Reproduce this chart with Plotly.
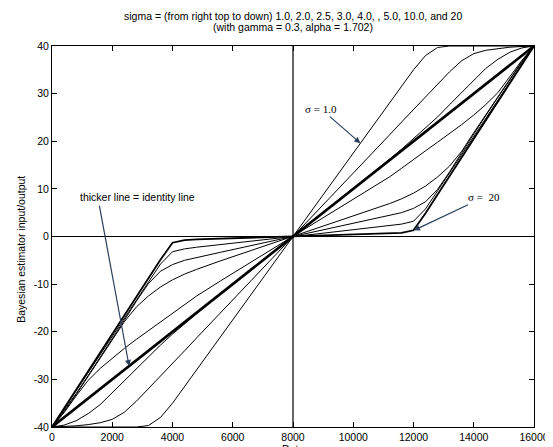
import plotly.graph_objects as go

# Data axis values (shared grid for all sigma curves)
data_x = [0, 400, 800, 1200, 1600, 2000, 2400, 2800, 3200, 3600, 4000, 4400, 4800, 5600, 6400, 7200,
          8000, 8800, 9600, 10400, 11200, 11600, 12000, 12400, 12800, 13200, 13600, 14000, 14400,
          14800, 15200, 15600, 16000]

s1_y = [-40, -40, -40, -40, -40, -40, -40, -40, -39.7, -38.0, -35.0, -31.5, -28.0, -21.0, -14.0, -7.0,
        0, 7.0, 14.0, 21.0, 28.0, 31.5, 35.0, 38.0, 39.7, 40, 40, 40, 40, 40, 40, 40, 40]
s2_y = [-40, -39.9, -39.75, -39.5, -39.1, -38.4, -36.9, -34.6, -32.0, -29.3, -26.6, -24.0, -21.3, -16.0, -10.6, -5.3,
        0, 5.3, 10.6, 16.0, 21.3, 24.0, 26.6, 29.3, 32.0, 34.6, 36.9, 38.4, 39.1, 39.5, 39.75, 39.9, 40]
s25_y = [-40, -39.6, -38.7, -37.2, -35.3, -32.8, -30.3, -27.7, -25.1, -22.8, -20.5, -18.3, -16.2, -12.0, -8.0, -4.0,
         0, 4.0, 8.0, 12.0, 16.2, 18.3, 20.5, 22.8, 25.1, 27.7, 30.3, 32.8, 35.3, 37.2, 38.7, 39.6, 40]
s3_y = [-40, -37.0, -33.5, -30.2, -27.7, -25.5, -23.5, -21.6, -19.8, -18.0, -16.2, -14.3, -12.5, -9.3, -6.2, -3.1,
        0, 3.1, 6.2, 9.3, 12.5, 14.3, 16.2, 18.0, 19.8, 21.6, 23.5, 25.5, 27.7, 30.2, 33.5, 37.0, 40]
s4_y = [-40, -36.8, -33.2, -29.4, -25.6, -21.8, -17.9, -14.8, -12.5, -10.6, -9.1, -7.9, -6.9, -5.1, -3.4, -1.7,
        0, 1.7, 3.4, 5.1, 6.9, 7.9, 9.1, 10.6, 12.5, 14.8, 17.9, 21.8, 25.6, 29.4, 33.2, 36.8, 40]
s5_y = [-40, -36.6, -33.0, -29.2, -25.4, -21.6, -17.6, -13.6, -9.9, -7.3, -5.9, -5.0, -4.4, -3.3, -2.2, -1.1,
        0, 1.1, 2.2, 3.3, 4.4, 5.0, 5.9, 7.3, 9.9, 13.6, 17.6, 21.6, 25.4, 29.2, 33.0, 36.6, 40]
s10_y = [-40, -36.2, -32.4, -28.6, -24.8, -21.0, -17.2, -13.4, -9.6, -5.8, -3.2, -2.6, -2.25, -1.65, -1.1, -0.55,
         0, 0.55, 1.1, 1.65, 2.25, 2.6, 3.2, 5.8, 9.6, 13.4, 17.2, 21.0, 24.8, 28.6, 32.4, 36.2, 40]
s20_y = [-40, -36.1, -32.2, -28.3, -24.4, -20.5, -16.6, -12.7, -8.8, -4.9, -1.3, -0.75, -0.6, -0.45, -0.3, -0.15,
         0, 0.15, 0.3, 0.45, 0.6, 0.75, 1.3, 4.9, 8.8, 12.7, 16.6, 20.5, 24.4, 28.3, 32.2, 36.1, 40]

identity_x = [0, 16000]
identity_y = [-40, 40]

center_x = 8000
x_ticks = [0, 2000, 4000, 6000, 8000, 10000, 12000, 14000, 16000]
y_ticks = [-40, -30, -20, -10, 0, 10, 20, 30, 40]

sigma_names = ["1.0", "2.0", "2.5", "3.0", "4.0", "5.0", "10.0", "20"]
sigma_curves = [s1_y, s2_y, s25_y, s3_y, s4_y, s5_y, s10_y, s20_y]
sigma_widths = [1, 1, 1, 1, 1, 1, 1, 1.8]

fig = go.Figure()
for name, ys, w in zip(sigma_names, sigma_curves, sigma_widths):
    fig.add_trace(go.Scatter(x=data_x, y=ys, mode="lines", name="sigma " + name,
                             line=dict(color="black", width=w), showlegend=False))
fig.add_trace(go.Scatter(x=identity_x, y=identity_y, mode="lines", name="identity",
                         line=dict(color="black", width=2.6), showlegend=False))

fig.add_shape(type="line", xref="x", yref="paper", x0=center_x, x1=center_x, y0=0, y1=1,
              line=dict(color="black", width=1.2))

font_sans = "Liberation Sans, Arial, sans-serif"
font_serif = "Liberation Serif, Times New Roman, serif"

fig.update_layout(
    width=553, height=447,
    margin=dict(l=44, r=15, t=38, b=23),
    paper_bgcolor="white", plot_bgcolor="white",
    font=dict(family=font_sans, size=10.5, color="black"),
    xaxis=dict(range=[0, 16000], tickvals=x_ticks, ticktext=[str(v) for v in x_ticks],
               ticks="inside", ticklen=5, tickcolor="black", showline=True, linecolor="black",
               linewidth=1, mirror="ticks", showgrid=False, zeroline=False,
               tickfont=dict(size=10.5), ticklabeloverflow="allow"),
    yaxis=dict(range=[-40, 40], tickvals=y_ticks, ticktext=[str(v) for v in y_ticks],
               ticks="inside", ticklen=5, tickcolor="black", showline=True, linecolor="black",
               linewidth=1, mirror="ticks", showgrid=False, zeroline=True, zerolinecolor="black",
               zerolinewidth=1.2, tickfont=dict(size=10.5), ticklabeloverflow="allow"),
)

annotations = [
    dict(text="sigma = (from right top to down) 1.0, 2.0, 2.5, 3.0, 4.0, , 5.0, 10.0, and 20",
         xref="paper", yref="paper", x=0.5, y=1, yshift=30, showarrow=False,
         xanchor="center", yanchor="middle", font=dict(size=10.5)),
    dict(text="(with gamma = 0.3, alpha = 1.702)",
         xref="paper", yref="paper", x=0.5, y=1, yshift=19, showarrow=False,
         xanchor="center", yanchor="middle", font=dict(size=10.5)),
    dict(text="Bayesian estimator input/output", xref="paper", yref="paper",
         x=0, y=0.465, xshift=-31, textangle=-90, showarrow=False,
         xanchor="center", yanchor="middle", font=dict(size=10.5)),
    dict(text="Data", xref="paper", yref="paper", x=0.5, y=0, yshift=-21.5,
         showarrow=False, xanchor="center", yanchor="middle", font=dict(size=10.5)),
    dict(text="σ = 1.0", x=10235, y=19.6, xref="x", yref="y", showarrow=True,
         arrowhead=2, arrowsize=1, arrowwidth=1.2, ax=-39, ay=-34,
         font=dict(family=font_serif, size=11)),
    dict(text="σ =  20", x=12016, y=1.3, xref="x", yref="y", showarrow=True,
         arrowhead=2, arrowsize=1, arrowwidth=1.2, ax=70, ay=-33,
         font=dict(family=font_serif, size=11)),
    dict(text="thicker line = identity line", xref="paper", yref="paper",
         x=(132 - 44) / 494, y=(424 - 191) / 386, showarrow=False,
         xanchor="center", yanchor="middle", font=dict(size=10.5)),
    dict(text="", x=2559, y=-27.2, xref="x", yref="y", showarrow=True,
         arrowhead=2, arrowsize=1, arrowwidth=1.2, ax=-30, ay=-162),
]
fig.update_layout(annotations=annotations)

fig.write_html("out.html")
